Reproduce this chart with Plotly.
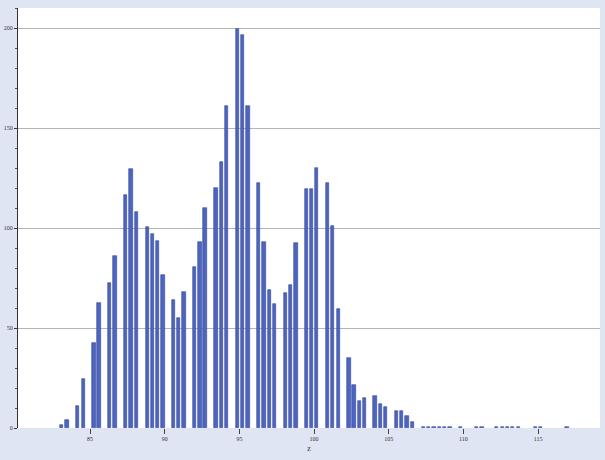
import plotly.graph_objects as go

x_vals = [83.11, 83.46, 84.18, 84.55, 85.27, 85.60, 86.32, 86.67, 87.39, 87.74,
          88.10, 88.82, 89.17, 89.53, 89.89, 90.58, 90.91, 91.29, 91.98, 92.36,
          92.70, 93.43, 93.82, 94.15, 94.86, 95.22, 95.58, 96.29, 96.65, 97.00,
          97.36, 98.07, 98.43, 98.79, 99.50, 99.83, 100.19, 100.91, 101.26, 101.62,
          102.34, 102.67, 103.03, 103.39, 104.08, 104.43, 104.79, 105.50, 105.86, 106.22,
          106.57, 107.31, 107.67, 108.03, 108.38, 108.74, 109.10, 109.81, 110.88, 111.24,
          112.24, 112.60, 112.96, 113.31, 113.67, 114.81, 115.17, 116.93]
counts = [1.5, 4, 11, 24.5, 42.5, 62.5, 72.5, 86, 116.5, 129.5,
          108, 100.5, 97, 93.5, 76.5, 64, 55, 68, 80.5, 93,
          110, 120, 133, 161, 199.5, 196.5, 161, 122.5, 93, 69,
          62, 67.5, 71.5, 92.5, 119.5, 119.5, 130, 122.5, 101, 59.5,
          35, 21.5, 13.5, 15, 16, 12, 10.5, 8.5, 8.5, 6,
          3, 0.7, 0.7, 0.7, 0.7, 0.7, 0.7, 0.7, 0.7, 0.7,
          0.7, 0.7, 0.7, 0.7, 0.7, 0.7, 0.7, 0.7]

x_ticks = [85, 90, 95, 100, 105, 110, 115]
y_ticks = [0, 50, 100, 150, 200]

fig = go.Figure()
fig.add_trace(go.Bar(
    x=x_vals, y=counts, width=0.21,
    marker=dict(color="#4d65bf", line=dict(color="#34469a", width=0.6)),
    showlegend=False,
))

fig.update_layout(
    width=605, height=460,
    margin=dict(l=18, r=5, t=8, b=32, autoexpand=False),
    paper_bgcolor="#dfe5f2",
    plot_bgcolor="#ffffff",
    font=dict(family="Liberation Serif", size=6, color="#333333"),
    bargap=0,
)
fig.update_xaxes(
    range=[80.18, 119.14], automargin=False,
    tickvals=x_ticks, ticktext=[str(t) for t in x_ticks],
    ticks="outside", ticklen=5, tickcolor="#444444", tickwidth=1,
    showgrid=False, zeroline=False, showline=False,
    title=dict(text="z", font=dict(size=8), standoff=4),
)
fig.update_yaxes(
    range=[0, 210], automargin=False,
    tickvals=y_ticks, ticktext=[str(t) for t in y_ticks],
    ticks="outside", ticklen=3, tickcolor="#333333",
    showgrid=True, gridcolor="#b5b5b5", gridwidth=1,
    showline=True, linecolor="#333333", linewidth=1,
    zeroline=False,
    minor=dict(dtick=10, ticks="outside", ticklen=2, tickcolor="#555555", showgrid=False),
)

fig.write_html(
    "out.html",
    config={"displayModeBar": False},
    post_script="document.body.style.margin='0px';document.body.style.overflow='hidden';",
)
